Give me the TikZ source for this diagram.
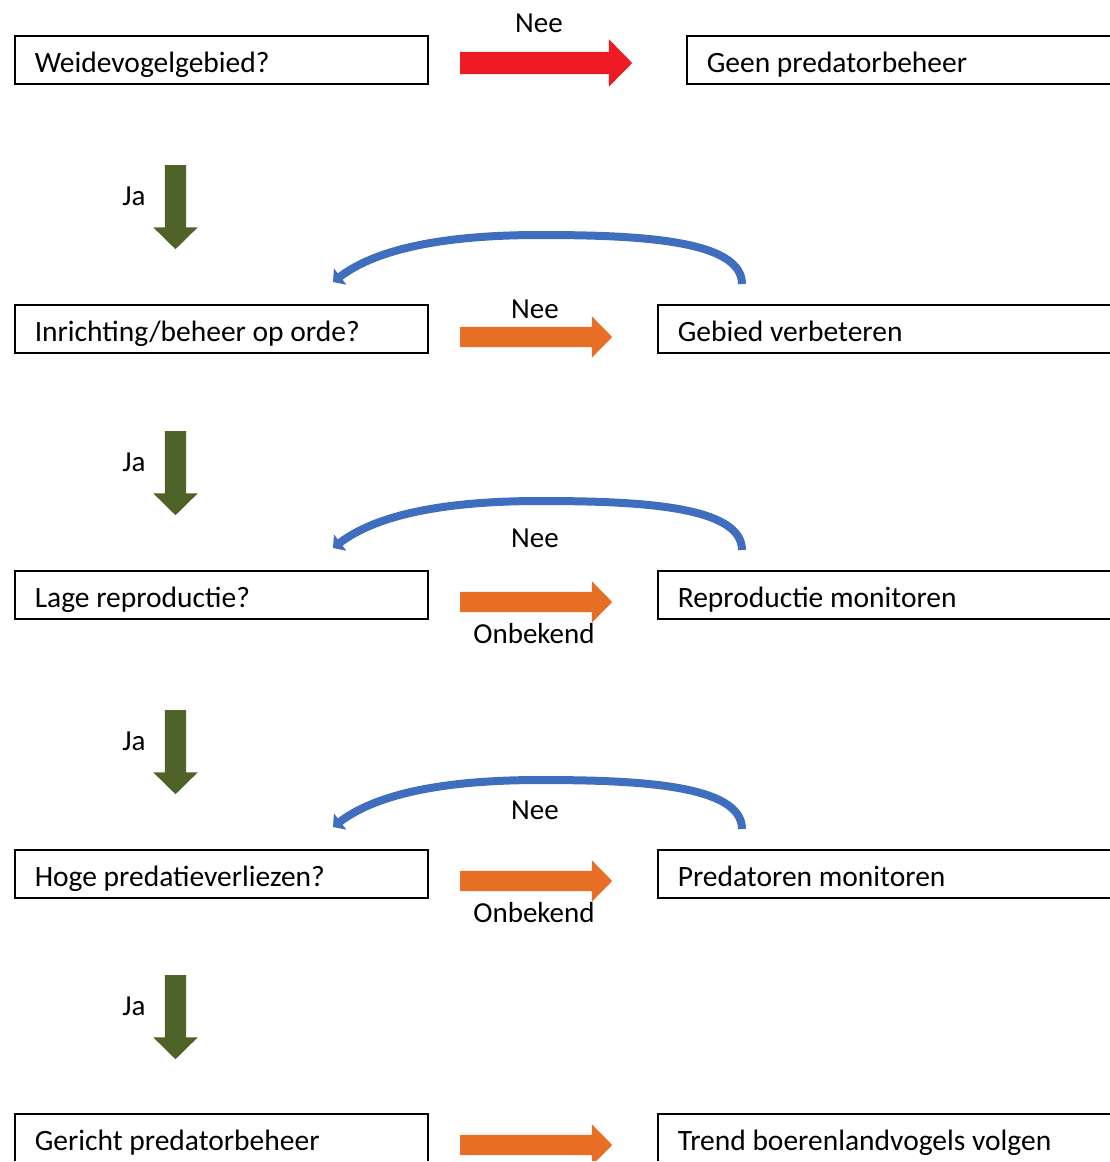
\documentclass[tikz,border=0pt]{standalone}
\usepackage{fontspec}
\setmainfont{Carlito}
\usetikzlibrary{shapes.arrows,arrows.meta}
\definecolor{neered}{RGB}{237,28,36}
\definecolor{neeorange}{RGB}{230,110,37}
\definecolor{jagreen}{RGB}{79,98,40}
\definecolor{backblue}{RGB}{64,110,190}
\tikzset{
  stepbox/.style={draw, line width=1.5pt, anchor=north west, minimum height=48pt,
    inner xsep=20pt, inner ysep=0pt, text height=30pt, text depth=4pt, align=flush left,
    font=\fontsize{29.5}{34}\selectfont},
  leftbox/.style={stepbox, text width=373pt},
  rightbox/.style={stepbox, text width=430pt},
  fatarrow/.style={single arrow, draw=none, anchor=tail, inner xsep=0pt,
    text height=0pt, text depth=0pt, single arrow tip angle=91},
  neearrow/.style={fatarrow, fill=neered, inner ysep=11pt,
    single arrow head extend=12.5pt, minimum height=172pt},
  nextarrow/.style={fatarrow, fill=neeorange, inner ysep=10pt,
    single arrow head extend=10.5pt, minimum height=152pt},
  jaarrow/.style={fatarrow, fill=jagreen, inner ysep=10.5pt,
    single arrow head extend=11.5pt, minimum height=84pt, rotate=-90},
  backarc/.style={draw=backblue, line width=8pt,
    -{Triangle[length=9pt,width=20pt]}},
  lbl/.style={font=\fontsize{29}{34}\selectfont, inner sep=0pt}
}
\begin{document}
\begin{tikzpicture}[x=1pt,y=-1pt]
\useasboundingbox (0,0) rectangle (1110,1162);
\clip (0,0) rectangle (1110,1160);
% boxes, left column
\node[leftbox] (weide)   at (14,35)   {Weidevogelgebied?};
\node[leftbox] (inricht) at (14,304)  {Inrichting/beheer op orde?};
\node[leftbox] (repro)   at (14,570)  {Lage reproductie?};
\node[leftbox] (predat)  at (14,849)  {Hoge predatieverliezen?};
\node[leftbox] (gericht) at (14,1113) {Gericht predatorbeheer};
% boxes, right column
\node[rightbox] (geen)    at (686,35)  {Geen predatorbeheer};
\node[rightbox] (verbet)  at (657,304) {Gebied verbeteren};
\node[rightbox] (repmon)  at (657,570) {Reproductie monitoren};
\node[rightbox] (predmon) at (657,849) {Predatoren monitoren};
\node[rightbox] (trend)   at (657,1113) {Trend boerenlandvogels volgen};
% arrows to the right
\node[neearrow]  (a1) at (460,63)   {};
\node[nextarrow] (a2) at (460,337)  {};
\node[nextarrow] (a3) at (460,602)  {};
\node[nextarrow] (a4) at (460,881)  {};
\node[nextarrow] (a5) at (460,1145) {};
\node[lbl] (nee1) at (539,23)  {Nee};
\node[lbl] (nee2) at (535,309) {Nee};
\node[lbl] (nee3) at (535,538) {Nee};
\node[lbl] (onb3) at (534,634) {Onbekend};
\node[lbl] (nee4) at (535,810) {Nee};
\node[lbl] (onb4) at (534,913) {Onbekend};
% arrows down
\foreach \y/\n in {165/1,431/2,710/3,975/4} {
  \node[jaarrow] (ja\n) at (175.5,\y) {};
  \node[lbl] (jalbl\n) at (134,\y+31) {Ja};
}
% arcs back to the left column
\foreach \b/\n in {304/2,570/3,849/4} {
  \coordinate (from\n) at (742,\b-20);
  \coordinate (to\n) at (333,\b-22);
  \draw[backarc] (from\n) .. controls (742,\b-64) and (640,\b-69) .. (540,\b-69)
    .. controls (440,\b-69) and (375,\b-54) .. (to\n);
}
\end{tikzpicture}
\end{document}
